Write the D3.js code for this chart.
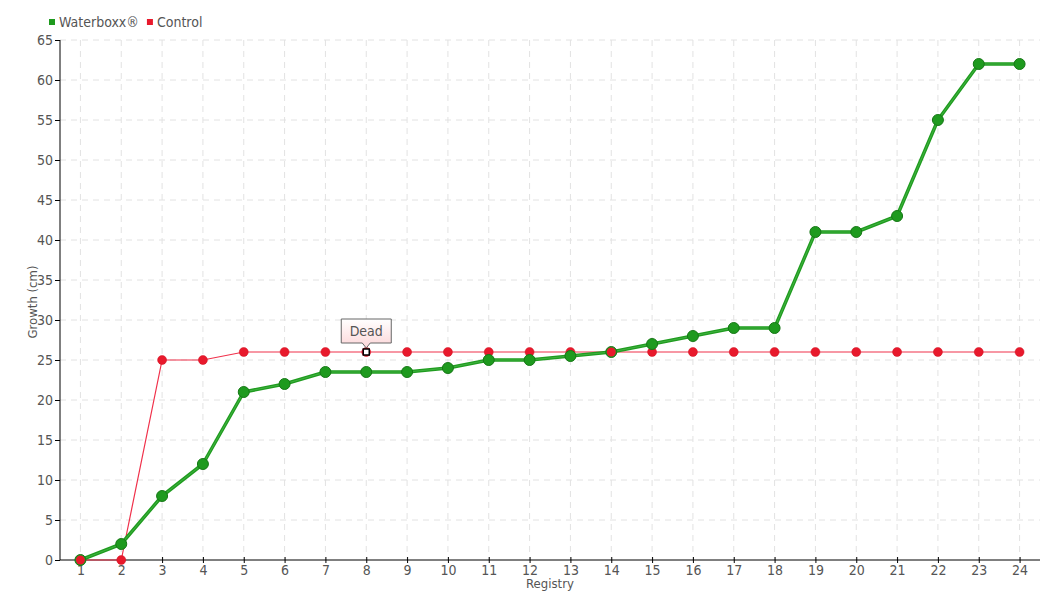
<!DOCTYPE html>
<html>
<head>
<meta charset="utf-8">
<script src="https://cdn.jsdelivr.net/npm/d3@7"></script>
<style>
  body { margin: 0; background: #fff; }
  svg text { font-family: 'DejaVu Sans Condensed', 'DejaVu Sans', sans-serif; font-stretch: condensed; fill: #555; }
</style>
</head>
<body>
<svg id="chart" width="1060" height="600"></svg>
<script>
const categories = ["1","2","3","4","5","6","7","8","9","10","11","12","13","14","15","16","17","18","19","20","21","22","23","24"];
const waterboxx = [0,2,8,12,21,22,23.5,23.5,23.5,24,25,25,25.5,26,27,28,29,29,41,41,43,55,62,62];
const control = [0,0,25,25,26,26,26,26,26,26,26,26,26,26,26,26,26,26,26,26,26,26,26,26];
const yTicks = [0,5,10,15,20,25,30,35,40,45,50,55,60,65];
const seriesNames = ["Waterboxx®", "Control"];
const annotation = { index: 7, text: "Dead" };

const svg = d3.select("#chart");
const m = { left: 60, right: 1040, top: 40, bottom: 560 };
const x = d3.scalePoint().domain(categories).range([m.left, m.right]).padding(0.5);
const y = d3.scaleLinear().domain([0, 65]).range([m.bottom, m.top]);

// grid
const grid = svg.append("g");
grid.selectAll("line.h").data(yTicks.filter(d => d > 0)).join("line")
  .attr("x1", m.left).attr("x2", m.right)
  .attr("y1", d => y(d)).attr("y2", d => y(d))
  .attr("stroke", "#e2e2e2").attr("stroke-dasharray", "6,5");
grid.selectAll("line.v").data(categories).join("line")
  .attr("x1", d => x(d)).attr("x2", d => x(d))
  .attr("y1", m.top).attr("y2", m.bottom)
  .attr("stroke", "#e2e2e2").attr("stroke-dasharray", "6,5");

// axes
const yAxis = svg.append("g").attr("transform", `translate(${m.left},0)`)
  .call(d3.axisLeft(y).tickValues(yTicks).tickSize(5).tickPadding(2));
yAxis.select(".domain").attr("stroke", "#000").attr("d", `M0,${m.top}V${m.bottom}`);
yAxis.selectAll(".tick line").attr("stroke", "#000");
yAxis.selectAll(".tick text").attr("font-size", 14).attr("fill", "#555");

const xAxis = svg.append("g").attr("transform", `translate(0,${m.bottom})`)
  .call(d3.axisBottom(x).tickSize(3).tickPadding(2));
xAxis.select(".domain").attr("stroke", "#000").attr("d", `M${m.left},0H${m.right}`);
xAxis.selectAll(".tick line").attr("stroke", "#000").attr("y1", -3).attr("y2", 3);
xAxis.selectAll(".tick text").attr("font-size", 14).attr("fill", "#555");

// axis titles
svg.append("text").attr("transform", `translate(37,${(m.top + m.bottom) / 2 + 2}) rotate(-90)`)
  .attr("text-anchor", "middle").attr("font-size", 13).text("Growth (cm)");
svg.append("text").attr("x", (m.left + m.right) / 2).attr("y", 588)
  .attr("text-anchor", "middle").attr("font-size", 13).text("Registry");

// control line
const line = (vals) => d3.line().x((d, i) => x(categories[i])).y(d => y(d))(vals);
svg.append("path").attr("d", line(control)).attr("fill", "none")
  .attr("stroke", "#f0304a").attr("stroke-width", 1.2);

// waterboxx line
svg.append("path").attr("d", line(waterboxx)).attr("fill", "none")
  .attr("stroke", "#1f9c1f").attr("stroke-width", 3.5).attr("stroke-linejoin", "round");
svg.append("path").attr("d", line(waterboxx)).attr("fill", "none")
  .attr("stroke", "#7fd77f").attr("stroke-width", 0.8).attr("stroke-opacity", 0.45);

// control points
svg.selectAll("circle.c").data(control).join("circle")
  .attr("cx", (d, i) => x(categories[i])).attr("cy", d => y(d)).attr("r", 4.5)
  .attr("fill", "#e8192c").attr("stroke", "#d01020").attr("stroke-width", 0.5);

// waterboxx points
svg.selectAll("circle.w").data(waterboxx).join("circle")
  .attr("cx", (d, i) => x(categories[i])).attr("cy", d => y(d)).attr("r", 5.5)
  .attr("fill", "#1e9a1e").attr("stroke", "#167816").attr("stroke-width", 1);

// red points drawn over green where values coincide
[0, 13].forEach(i => {
  svg.append("circle").attr("cx", x(categories[i])).attr("cy", y(control[i])).attr("r", 4.5)
    .attr("fill", "#e8192c");
});

// annotation
const ax = x(categories[annotation.index]), ay = y(control[annotation.index]);
svg.append("rect").attr("x", ax - 3).attr("y", ay - 3).attr("width", 6).attr("height", 6)
  .attr("fill", "#fff").attr("stroke", "#000").attr("stroke-width", 1.5);
const defs = svg.append("defs");
const grad = defs.append("linearGradient").attr("id", "tipg").attr("x1", 0).attr("y1", 0).attr("x2", 0).attr("y2", 1);
grad.append("stop").attr("offset", "0%").attr("stop-color", "#fff");
grad.append("stop").attr("offset", "100%").attr("stop-color", "#fcd6d8");
const bx = ax - 25, by = ay - 33, bw = 50, bh = 24;
svg.append("path")
  .attr("d", `M${bx},${by}H${bx + bw}V${by + bh}H${ax + 4}L${ax},${by + bh + 5}L${ax - 4},${by + bh}H${bx}Z`)
  .attr("fill", "url(#tipg)").attr("stroke", "#666").attr("stroke-width", 1);
svg.append("text").attr("x", ax).attr("y", by + 17).attr("text-anchor", "middle")
  .attr("font-size", 14).text(annotation.text);

// legend
const legColors = ["#1e9a1e", "#e8192c"];
let lx = 49;
seriesNames.forEach((n, i) => {
  svg.append("rect").attr("x", lx).attr("y", 19).attr("width", 6).attr("height", 6).attr("fill", legColors[i]);
  const t = svg.append("text").attr("x", lx + 10).attr("y", 27).attr("font-size", 14).text(n);
  lx += 10 + t.node().getComputedTextLength() + 8;
});
</script>
</body>
</html>
